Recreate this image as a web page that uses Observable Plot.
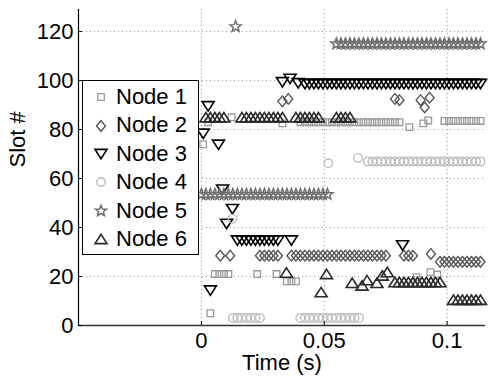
<!DOCTYPE html>
<html><head><meta charset="utf-8">
<script src="https://cdn.jsdelivr.net/npm/d3@7"></script>
<script src="https://cdn.jsdelivr.net/npm/@observablehq/plot@0.6"></script>
<style>
body{margin:0;background:#fff;font-family:"Liberation Sans",Arial,Helvetica,sans-serif;}
#wrap{position:relative;width:489px;height:379px;overflow:hidden;}
#legend{position:absolute;left:82px;top:80px;width:115px;height:171px;border:1px solid #000;background:#fff;padding-top:2px;box-sizing:content-box;}
#legend .row{position:relative;height:28.4px;line-height:28.4px;font-size:22px;color:#000;}
#legend .row svg{position:absolute;left:8px;top:4.2px;}
#legend .row span{position:absolute;left:33px;top:0;}
</style></head>
<body><div id="wrap"></div>
<script>
// ---- data (time in frames of FRAME_S seconds, slot numbers) ----
const FRAME_S = 0.0018315;
const nodeNames = ["Node 1", "Node 2", "Node 3", "Node 4", "Node 5", "Node 6"];
const xTickValues = [0, 0.05, 0.1];
const xTickLabels = ["0", "0.05", "0.1"];
const yTickValues = [0, 20, 40, 60, 80, 100, 120];
const xDomain = [-0.05, 0.1156];
const yDomain = [0, 129];

const n1Frame = [0.4, 1.5, 2, 3, 4, 5, 6, 6.7, 12.4, 16.7, 18, 19, 20, 21,
  22, 23, 24, 25, 26, 27, 28, 29, 30, 31, 32, 33, 34, 35, 36, 37, 38, 39, 40, 41, 42, 43, 44,
  46.2, 49.3, 50.4, 47.8, 50.9, 52.4,
  54, 55, 56, 57, 58, 59, 60, 61, 62];
const n1Slot = [74, 83, 5, 21, 21, 21, 21, 85, 21, 21, 82.5, 18, 18, 18,
  83, 83, 83, 83, 83, 83, 83, 83, 83, 83, 83, 83, 83, 83, 83, 83, 83, 83, 83, 83, 83, 83, 83,
  81, 82.5, 83.7, 19.7, 21.8, 20.8,
  83.5, 83.5, 83.5, 83.5, 83.5, 83.5, 83.5, 83.5, 83.5];

const n2Frame = [18, 19.3, 43, 44, 48.7, 49.6, 50.7,
  4.2, 6.4, 13, 14, 15, 16, 17,
  20, 21, 22, 23, 24, 25, 26, 27, 28, 29, 30, 31, 32, 33, 34, 35, 36, 37, 38, 39, 40, 41,
  45, 46, 47, 51,
  53, 54, 55, 56, 57, 58, 59, 60, 61, 62];
const n2Slot = [91.5, 92.5, 92.5, 92, 92, 89, 93,
  28.5, 28.5, 28.5, 28.5, 28.5, 28.5, 28.5,
  28.5, 28.5, 28.5, 28.5, 28.5, 28.5, 28.5, 28.5, 28.5, 28.5, 28.5, 28.5, 28.5, 28.5, 28.5, 28.5, 28.5, 28.5, 28.5, 28.5, 28.5, 28.5,
  28.5, 28.5, 28.5, 29.2,
  26, 26, 26, 26, 26, 26, 26, 26, 26, 26];

const n3Frame = [0.4, 1.5, 2, 3.8, 4.7, 5.6, 6.9,
  8, 9, 10, 11, 12, 13, 14, 15, 16, 17, 20,
  18, 19.7, 21.5,
  23, 24, 25, 26, 27, 28, 29, 30, 31, 32, 33, 34, 35, 36, 37, 38, 39, 40, 41, 42,
  43, 44, 45, 46, 47, 48, 49, 50, 51, 52, 53, 54, 55, 56, 57, 58, 59, 60, 61, 62,
  44.7];
const n3Slot = [78.3, 89.5, 14.3, 73.8, 55.5, 41.5, 47.5,
  34.7, 34.7, 34.7, 34.7, 34.7, 34.7, 34.7, 34.7, 34.7, 34.7, 34.7,
  99.3, 100.7, 98.9,
  98.6, 98.6, 98.6, 98.6, 98.6, 98.6, 98.6, 98.6, 98.6, 98.6, 98.6, 98.6, 98.6, 98.6, 98.6, 98.6, 98.6, 98.6, 98.6, 98.6,
  98.6, 98.6, 98.6, 98.6, 98.6, 98.6, 98.6, 98.6, 98.6, 98.6, 98.6, 98.6, 98.6, 98.6, 98.6, 98.6, 98.6, 98.6, 98.6, 98.6,
  32.7];

const n4Frame = [28.2, 6.9, 34.8,
  37, 38, 39, 40, 41, 42, 43, 44, 45, 46, 47, 48, 49, 50, 51, 52, 53, 54, 55, 56, 57, 58, 59, 60, 61, 62,
  7, 8, 9, 10, 11, 12, 13,
  22, 23, 24, 25, 26, 27, 28, 29, 30, 31, 32, 33, 34, 35];
const n4Slot = [66.2, 43.6, 68.4,
  67, 67, 67, 67, 67, 67, 67, 67, 67, 67, 67, 67, 67, 67, 67, 67, 67, 67, 67, 67, 67, 67, 67, 67, 67, 67,
  3.1, 3.1, 3.1, 3.1, 3.1, 3.1, 3.1,
  3.1, 3.1, 3.1, 3.1, 3.1, 3.1, 3.1, 3.1, 3.1, 3.1, 3.1, 3.1, 3.1, 3.1];

const n5Frame = [0, 1, 2, 3, 4, 5, 6, 7, 8, 9, 10, 11, 12, 13, 14, 15, 16, 17, 18, 19, 20, 21, 22, 23, 24, 25, 26, 27, 28,
  7.6,
  30, 31, 32, 33, 34, 35, 36, 37, 38, 39, 40, 41, 42, 43, 44, 45, 46, 47, 48, 49, 50, 51, 52, 53, 54, 55, 56, 57, 58, 59, 60, 61, 62];
const n5Slot = [53.5, 53.5, 53.5, 53.5, 53.5, 53.5, 53.5, 53.5, 53.5, 53.5, 53.5, 53.5, 53.5, 53.5, 53.5, 53.5, 53.5, 53.5, 53.5, 53.5, 53.5, 53.5, 53.5, 53.5, 53.5, 53.5, 53.5, 53.5, 53.5,
  122,
  115, 115, 115, 115, 115, 115, 115, 115, 115, 115, 115, 115, 115, 115, 115, 115, 115, 115, 115, 115, 115, 115, 115, 115, 115, 115, 115, 115, 115, 115, 115, 115, 115];

const n6Frame = [1, 2, 3, 4, 5, 9, 10, 11, 12, 13, 14, 15, 16, 17, 18, 21, 22, 23, 24, 25, 26, 30, 31, 32, 33,
  18.9, 26.6, 27.8, 33.5, 35.7, 36.8, 39, 40.2, 41.3,
  43, 44, 45, 46, 47, 48, 49, 50, 51, 52, 53,
  56, 57, 58, 59, 60, 61, 62];
const n6Slot = [85, 85, 85, 85, 85, 85, 85, 85, 85, 85, 85, 85, 85, 85, 85, 85, 85, 85, 85, 85, 85, 85, 85, 85, 85,
  21.6, 13.6, 21, 17.4, 16.3, 18.5, 17.4, 20.4, 21.8,
  17.7, 17.7, 17.7, 17.7, 17.7, 17.7, 17.7, 17.7, 17.7, 17.7, 17.7,
  10.5, 10.5, 10.5, 10.5, 10.5, 10.5, 10.5];

// ---- marker shapes ----
function poly(c, pts){ c.moveTo(pts[0][0], pts[0][1]); for (let i = 1; i < pts.length; i++) c.lineTo(pts[i][0], pts[i][1]); c.closePath(); }
const symSquare = {draw(c){ const h = 3.3; poly(c, [[-h,-h],[h,-h],[h,h],[-h,h]]); }};
const symDiamond = {draw(c){ poly(c, [[0,-5.3],[4.5,0],[0,5.3],[-4.5,0]]); }};
const symTriDown = {draw(c){ poly(c, [[-6,-4.6],[6,-4.6],[0,4.8]]); }};
const symCircle = {draw(c){ c.moveTo(4.3,0); c.arc(0,0,4.3,0,2*Math.PI); c.closePath(); }};
const symStar = {draw(c){ const pts = []; for (let i = 0; i < 10; i++){ const a = -Math.PI/2 + i*Math.PI/5; const r = i % 2 ? 2.5 : 5.8; pts.push([r*Math.cos(a), r*Math.sin(a)]); } poly(c, pts); }};
const symTriUp = {draw(c){ poly(c, [[-6,4.6],[6,4.6],[0,-4.8]]); }};

const series = [
  {frames: n1Frame, slots: n1Slot, symbol: symSquare, stroke: "#9a9a9a", sw: 1.3},
  {frames: n2Frame, slots: n2Slot, symbol: symDiamond, stroke: "#555555", sw: 1.4},
  {frames: n3Frame, slots: n3Slot, symbol: symTriDown, stroke: "#000000", sw: 1.6},
  {frames: n4Frame, slots: n4Slot, symbol: symCircle, stroke: "#bdbdbd", sw: 1.4},
  {frames: n5Frame, slots: n5Slot, symbol: symStar, stroke: "#6e6e6e", sw: 1.5},
  {frames: n6Frame, slots: n6Slot, symbol: symTriUp, stroke: "#2a2a2a", sw: 1.6}
];

const dotMarks = series.map((s, i) => {
  const rows = s.frames.map((f, j) => ({t: f * FRAME_S, slot: s.slots[j], node: nodeNames[i]}));
  return Plot.dot(rows, {x: "t", y: "slot", symbol: s.symbol, r: 4, stroke: s.stroke, fill: "none", strokeWidth: s.sw});
});

const chart = Plot.plot({
  width: 489, height: 379,
  marginLeft: 78, marginRight: 4, marginTop: 9, marginBottom: 54,
  style: {fontFamily: "'Liberation Sans', Arial, Helvetica, sans-serif", fontSize: "22px", background: "#fff", color: "#000", overflow: "visible"},
  x: {domain: xDomain},
  y: {domain: yDomain},
  marks: [
    Plot.gridX(xTickValues, {stroke: "#8a8a8a", strokeOpacity: 1, strokeDasharray: "1,3"}),
    Plot.gridY(yTickValues.filter(v => v > 0), {stroke: "#9a9a9a", strokeOpacity: 1, strokeDasharray: "1,3"}),
    ...dotMarks,
    Plot.ruleX([xDomain[0]], {stroke: "#000", strokeWidth: 1.2}),
    Plot.ruleY([yDomain[0]], {stroke: "#333", strokeWidth: 1.5}),
    Plot.tickX(xTickValues, {x: d => d, insetTop: 312, stroke: "#000"}),
    Plot.tickY(yTickValues, {y: d => d, insetRight: 403, stroke: "#000"}),
    Plot.axisX(xTickValues, {tickSize: 0, tickPadding: 7, tickFormat: d => xTickLabels[xTickValues.indexOf(d)], label: null, fontSize: 22}),
    Plot.axisY(yTickValues, {tickSize: 0, tickPadding: 5, label: null, fontSize: 22}),
    Plot.text(["Slot #"], {frameAnchor: "left", dx: -61, rotate: -90, fontSize: 22}),
    Plot.text(["Time (s)"], {frameAnchor: "bottom", lineAnchor: "top", dy: 29, fontSize: 22})
  ]
});

const wrap = document.getElementById("wrap");
wrap.appendChild(chart);

// ---- legend ----
const legend = document.createElement("div");
legend.id = "legend";
series.forEach((s, i) => {
  const row = document.createElement("div");
  row.className = "row";
  const p = d3.path();
  s.symbol.draw(p);
  row.innerHTML = `<svg width="20" height="20" viewBox="-10 -10 20 20"><path d="${p.toString()}" fill="none" stroke="${s.stroke}" stroke-width="${s.sw}"/></svg><span>${nodeNames[i]}</span>`;
  legend.appendChild(row);
});
wrap.appendChild(legend);
</script>
</body></html>
